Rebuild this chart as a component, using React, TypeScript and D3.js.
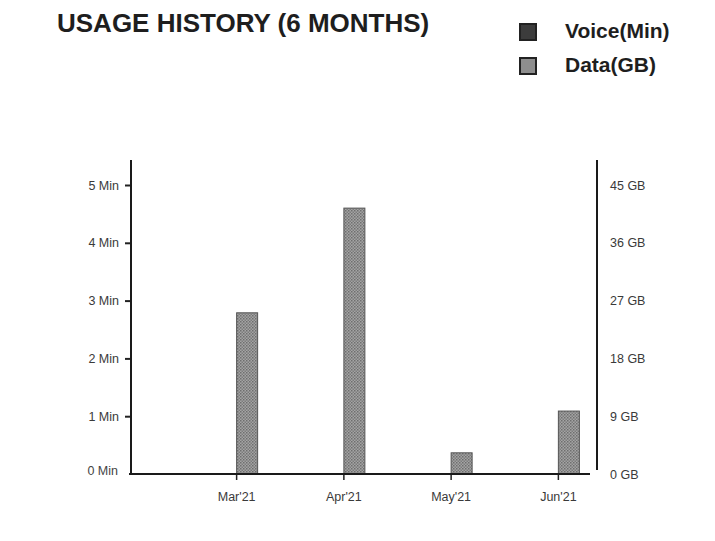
import React, { useEffect, useRef } from 'react';
import * as d3 from 'd3';

const months: string[] = ["Mar'21", "Apr'21", "May'21", "Jun'21"];
const voiceMin: number[] = [0, 0, 0, 0];
const dataGB: number[] = [25.1, 41.4, 3.3, 9.8];
const minTicks: number[] = [0, 1, 2, 3, 4, 5];
const gbTicks: number[] = [0, 9, 18, 27, 36, 45];
const seriesKeys: string[] = ['voice', 'data'];
const seriesLabels: string[] = ['Voice(Min)', 'Data(GB)'];

const FONT = '"Liberation Sans", Arial, Helvetica, sans-serif';
const TICK_FONT = 12.5;

const App: React.FC = () => {
  const svgRef = useRef<SVGSVGElement | null>(null);

  useEffect(() => {
    if (!svgRef.current) return;
    const width = 715;
    const height = 541;
    const left = 131;
    const right = 597;
    const top = 160;
    const bottom = 474;

    const svg = d3.select(svgRef.current);
    svg.selectAll('*').remove();

    // halftone-ish fill like the printed bars
    const defs = svg.append('defs');
    const pat = defs
      .append('pattern')
      .attr('id', 'bar-tex')
      .attr('patternUnits', 'userSpaceOnUse')
      .attr('width', 3)
      .attr('height', 3);
    pat.append('rect').attr('width', 3).attr('height', 3).attr('fill', '#a4a4a4');
    pat.append('rect').attr('width', 1.5).attr('height', 1.5).attr('fill', '#6e6e6e');
    pat.append('rect').attr('x', 1.5).attr('y', 1.5).attr('width', 1.5).attr('height', 1.5).attr('fill', '#7c7c7c');

    svg.append('rect').attr('width', width).attr('height', height).attr('fill', '#ffffff');

    const x0 = d3.scaleBand<string>().domain(months).range([183, 612]);
    const x1 = d3.scaleBand<string>().domain(seriesKeys).range([-22, 22]);
    const yMin = d3.scaleLinear().domain([0, 5]).range([bottom, 185]);
    const yGB = d3.scaleLinear().domain([0, 45]).range([bottom, 185]);

    // title
    svg
      .append('text')
      .attr('x', 57)
      .attr('y', 32)
      .attr('font-family', FONT)
      .attr('font-size', 26)
      .attr('font-weight', 'bold')
      .attr('fill', '#1e1e1e')
      .text('USAGE HISTORY (6 MONTHS)');

    // legend
    const legend = svg.append('g').attr('transform', 'translate(520,24)');
    seriesLabels.forEach((label, i) => {
      const g = legend.append('g').attr('transform', `translate(0,${i * 34})`);
      g.append('rect')
        .attr('width', 16)
        .attr('height', 16)
        .attr('fill', i === 0 ? '#3c3c3c' : '#8e8e8e')
        .attr('stroke', '#222')
        .attr('stroke-width', 2);
      g.append('text')
        .attr('x', 45)
        .attr('y', 14)
        .attr('font-family', FONT)
        .attr('font-size', 21)
        .attr('font-weight', 'bold')
        .attr('fill', '#1e1e1e')
        .text(label);
    });

    // bars
    const rows = months.map((m, i) => ({ month: m, voice: voiceMin[i], data: dataGB[i] }));
    rows.forEach((r) => {
      const cx = (x0(r.month) ?? 0) + x0.bandwidth() / 2;
      if (r.voice > 0) {
        svg
          .append('rect')
          .attr('x', cx + (x1('voice') ?? 0))
          .attr('y', yMin(r.voice))
          .attr('width', x1.bandwidth())
          .attr('height', bottom - yMin(r.voice))
          .attr('fill', '#3c3c3c')
          .attr('stroke', '#222');
      }
      svg
        .append('rect')
        .attr('x', cx + (x1('data') ?? 0))
        .attr('y', yGB(r.data))
        .attr('width', x1.bandwidth() - 1)
        .attr('height', bottom - yGB(r.data))
        .attr('fill', 'url(#bar-tex)')
        .attr('stroke', '#555')
        .attr('stroke-width', 1);
    });

    // left axis
    const gl = svg
      .append('g')
      .attr('transform', `translate(${left},0)`)
      .call(
        d3
          .axisLeft(yMin)
          .tickValues(minTicks.slice(1))
          .tickSize(6)
          .tickPadding(6)
          .tickFormat((d) => `${d} Min`),
      );
    gl.select('.domain').remove();
    gl.selectAll('.tick line').attr('stroke', '#222').attr('stroke-width', 2);
    gl.selectAll('.tick text').attr('font-family', FONT).attr('font-size', TICK_FONT).attr('fill', '#3a3a3a');
    svg
      .append('text')
      .attr('x', 118)
      .attr('y', yMin(0))
      .attr('dy', '0.1em')
      .attr('text-anchor', 'end')
      .attr('font-family', FONT)
      .attr('font-size', TICK_FONT)
      .attr('fill', '#444')
      .text(`${minTicks[0]} Min`);
    svg
      .append('line')
      .attr('x1', left)
      .attr('x2', left)
      .attr('y1', top)
      .attr('y2', bottom)
      .attr('stroke', '#1a1a1a')
      .attr('stroke-width', 2);

    // right axis
    const gr = svg
      .append('g')
      .attr('transform', `translate(${right},0)`)
      .call(
        d3
          .axisRight(yGB)
          .tickValues(gbTicks)
          .tickSize(0)
          .tickPadding(13)
          .tickFormat((d) => `${d} GB`),
      );
    gr.select('.domain').remove();
    gr.selectAll('.tick text').attr('font-family', FONT).attr('font-size', TICK_FONT).attr('fill', '#3a3a3a');
    svg
      .append('line')
      .attr('x1', right)
      .attr('x2', right)
      .attr('y1', top)
      .attr('y2', bottom - 4)
      .attr('stroke', '#1a1a1a')
      .attr('stroke-width', 2);

    // x axis
    const gx = svg
      .append('g')
      .attr('transform', `translate(0,${bottom})`)
      .call(d3.axisBottom(x0).tickSize(6).tickPadding(12));
    gx.select('.domain').remove();
    gx.selectAll('.tick line').attr('stroke', '#222').attr('stroke-width', 1.5);
    gx.selectAll('.tick text').attr('font-family', FONT).attr('font-size', TICK_FONT).attr('fill', '#3a3a3a');
    svg
      .append('line')
      .attr('x1', left - 2)
      .attr('x2', 590)
      .attr('y1', bottom)
      .attr('y2', bottom)
      .attr('stroke', '#1a1a1a')
      .attr('stroke-width', 2);
  }, []);

  return (
    <div style={{ position: 'absolute', left: 0, top: 0 }}>
      <svg ref={svgRef} width={715} height={541} style={{ display: 'block' }} />
    </div>
  );
};

export default App;
